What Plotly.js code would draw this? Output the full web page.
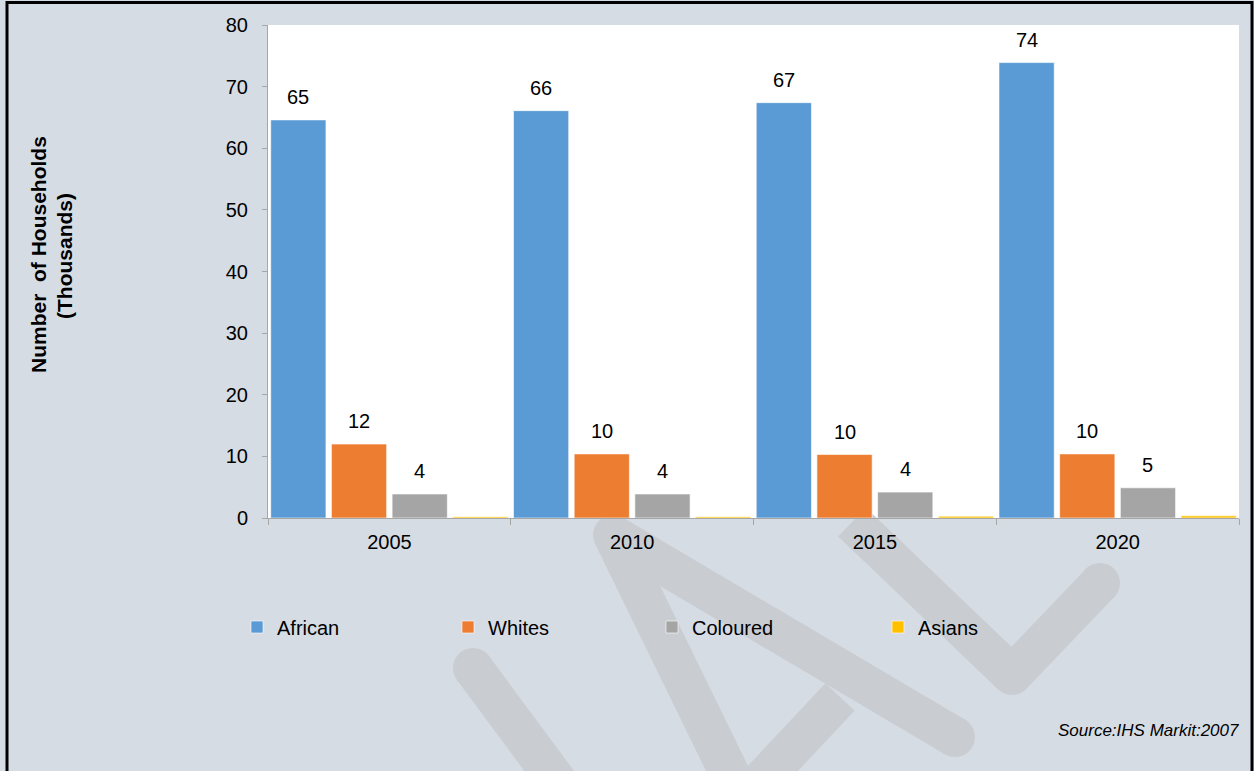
<!DOCTYPE html>
<html>
<head>
<meta charset="utf-8">
<script src="https://cdn.plot.ly/plotly-3.0.1.min.js"></script>
<style>html,body{margin:0;padding:0;background:#D6DCE4;}#chart{width:1254px;height:771px;}</style>
</head>
<body>
<div id="chart"></div>
<script>
// ---- data ----
const years = ['2005', '2010', '2015', '2020'];
const seriesNames = ['African', 'Whites', 'Coloured', 'Asians'];
const african = [64.6, 66.1, 67.4, 73.9];
const whites = [12.0, 10.4, 10.3, 10.4];
const coloured = [3.9, 3.9, 4.2, 4.9];
const asians = [0.2, 0.2, 0.3, 0.35];
const yTicks = [0, 10, 20, 30, 40, 50, 60, 70, 80];

// ---- styling ----
const colors = ['#5B9BD5', '#ED7D31', '#A5A5A5', '#FFC000'];
const FONT = 'Liberation Sans, Arial, sans-serif';
const W = 1254, H = 771;
const M = {l: 268, r: 15, t: 25, b: 253};
const PW = W - M.l - M.r, PH = H - M.t - M.b;
const px = x => (x - M.l) / PW;
const py = y => (H - M.b - y) / PH;

const allSeries = [african, whites, coloured, asians];
const legendIds = ['legend', 'legend2', 'legend3', 'legend4'];
const legendTextX = [277, 488, 692, 918];

const traces = allSeries.map((vals, i) => ({
  type: 'bar',
  name: seriesNames[i],
  x: years,
  y: vals,
  marker: {color: colors[i], line: {color: 'rgba(255,255,255,0.6)', width: 1}},
  legend: legendIds[i],
  hoverinfo: 'x+y+name'
}));

// data labels (first three series)
const annotations = [];
const nSeries = allSeries.length;
allSeries.slice(0, 3).forEach((vals, i) => {
  vals.forEach((v, j) => {
    annotations.push({
      xref: 'x', yref: 'y',
      x: j + (i - (nSeries - 1) / 2) / nSeries,
      y: v,
      yshift: 23,
      text: String(Math.round(v)),
      showarrow: false,
      xanchor: 'center', yanchor: 'middle',
      font: {family: FONT, size: 20, color: '#000'}
    });
  });
});

// axis title (two lines)
annotations.push({
  xref: 'paper', yref: 'paper', x: px(39), y: py(255),
  text: '<b>Number  of Households</b>', textangle: -90, showarrow: false,
  xanchor: 'center', yanchor: 'middle',
  font: {family: FONT, size: 21, color: '#000'}
});
annotations.push({
  xref: 'paper', yref: 'paper', x: px(64), y: py(256),
  text: '<b>(Thousands)</b>', textangle: -90, showarrow: false,
  xanchor: 'center', yanchor: 'middle',
  font: {family: FONT, size: 21, color: '#000'}
});
// source
annotations.push({
  xref: 'paper', yref: 'paper', x: px(1241), y: py(730),
  text: '<i>Source:IHS Markit:2007</i>', showarrow: false,
  xanchor: 'right', yanchor: 'middle',
  font: {family: FONT, size: 17, color: '#000'}
});

// watermark strokes (decoration), pixel coordinates
const wmColor = '#C9CDD2';
const wmWidth = 40;
const wmStrokes = [
  [[473, 668], [567, 795]],
  [[613, 535], [740, 795]],
  [[613, 535], [955, 737]],
  [[840, 697], [748, 795]],
  [[852, 522], [1012, 675]],
  [[1012, 675], [1100, 583]]
];
const wmCaps = [[473, 668], [613, 535], [955, 737], [1100, 583], [1012, 675]];
const shapes = [];
wmStrokes.forEach(s => {
  shapes.push({
    type: 'line', xref: 'paper', yref: 'paper', layer: 'below',
    x0: px(s[0][0]), y0: py(s[0][1]), x1: px(s[1][0]), y1: py(s[1][1]),
    line: {color: wmColor, width: wmWidth}
  });
});
wmCaps.forEach(c => {
  const r = wmWidth / 2;
  shapes.push({
    type: 'circle', xref: 'paper', yref: 'paper', layer: 'below',
    x0: px(c[0] - r), x1: px(c[0] + r), y0: py(c[1] + r), y1: py(c[1] - r),
    fillcolor: wmColor, line: {width: 0}
  });
});
// outer border
shapes.push({
  type: 'rect', xref: 'paper', yref: 'paper', layer: 'above',
  x0: px(7), x1: px(1252), y0: py(800), y1: py(2.5),
  line: {color: '#000', width: 3}, fillcolor: 'rgba(0,0,0,0)'
});

const layout = {
  width: W, height: H,
  margin: M,
  paper_bgcolor: '#D6DCE4',
  plot_bgcolor: '#FFFFFF',
  font: {family: FONT, size: 20, color: '#000'},
  barmode: 'group',
  bargap: 0,
  bargroupgap: 0.09,
  showlegend: true,
  xaxis: {
    type: 'category',
    showline: true, linecolor: '#A6A6A6', linewidth: 1,
    ticks: 'outside', tickson: 'boundaries', ticklen: 6, tickcolor: '#A6A6A6',
    showgrid: false, zeroline: false,
    tickfont: {family: FONT, size: 20, color: '#000'},
    ticklabelstandoff: 6
  },
  yaxis: {
    range: [0, 80],
    tickvals: yTicks,
    showline: true, linecolor: '#A6A6A6', linewidth: 1,
    ticks: 'outside', ticklen: 5, tickcolor: '#A6A6A6',
    showgrid: false, zeroline: false,
    tickfont: {family: FONT, size: 20, color: '#000'},
    ticklabelstandoff: 10
  },
  annotations: annotations,
  shapes: shapes
};
legendIds.forEach((id, i) => {
  layout[id] = {
    x: px(legendTextX[i] - 40), y: py(627),
    xanchor: 'left', yanchor: 'middle',
    orientation: 'h',
    bgcolor: 'rgba(0,0,0,0)', borderwidth: 0,
    font: {family: FONT, size: 20, color: '#000'}
  };
});

Plotly.newPlot('chart', traces, layout, {displayModeBar: false, staticPlot: true});
</script>
</body>
</html>
